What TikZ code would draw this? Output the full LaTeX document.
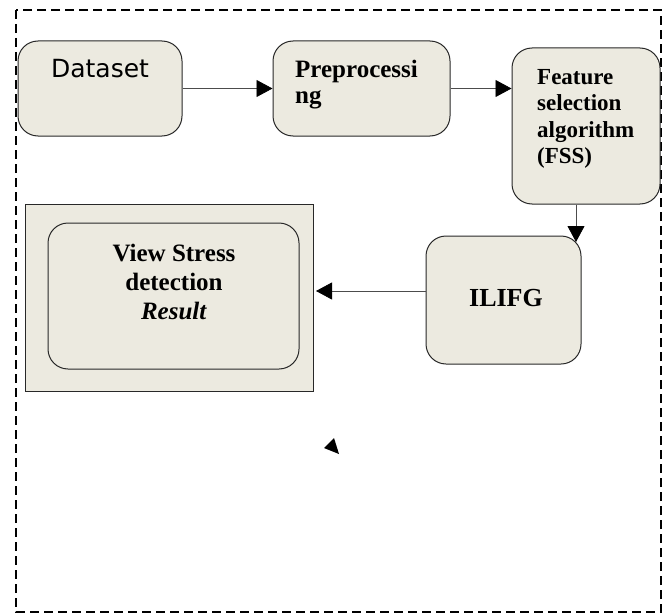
\documentclass[tikz,border=0pt]{standalone}
\usepackage{fontspec}
\setmainfont{Liberation Serif}
\newfontfamily\datafont{DejaVu Sans}
\usetikzlibrary{arrows.meta, positioning}
\definecolor{boxfill}{RGB}{236, 234, 224}
\definecolor{boxline}{RGB}{40, 40, 40}

\tikzset{
    stage/.style={draw=boxline, fill=boxfill, rounded corners=20pt, line width=1pt, inner sep=0pt},
    flow/.style={draw=black!70, line width=0.8pt, -{Triangle[length=16pt, width=17pt, black]}},
    txt/.style={inner sep=0pt, text=black}
}

\begin{document}
\begin{tikzpicture}[x=1pt, y=-1pt]
    \useasboundingbox (0,0) rectangle (666,615);

    % Outer dashed frame
    \draw[line width=2.6pt, dash pattern=on 9pt off 5pt] (16,10) rectangle (661,612);

    % Stages
    \node[stage, minimum width=164pt, minimum height=95pt] (data) at (100,88.5) {};
    \node[stage, minimum width=177pt, minimum height=95pt] (pre) at (361.5,88.5) {};
    \node[stage, minimum width=148pt, minimum height=156pt] (fss) at (586,126) {};
    \node[stage, minimum width=155pt, minimum height=128pt] (ilifg) at (503.5,300) {};

    % Result panel
    \node[draw=boxline, fill=boxfill, line width=1pt, minimum width=288pt, minimum height=187pt, inner sep=0pt] (panel) at (169,297.5) {};
    \node[stage, minimum width=251pt, minimum height=146pt] (result) at (173.5,296) {};

    % Texts
    \node[txt, anchor=base, font=\datafont\fontsize{25}{30}\selectfont] (datatxt) at (100,78) {Dataset};
    \node[txt, anchor=north west, align=left, font=\bfseries\fontsize{25}{26}\selectfont] (pretxt) at (295,60) {Preprocessi\\ng};
    \node[txt, anchor=north west, align=left, font=\bfseries\fontsize{23}{26.5}\selectfont] (fsstxt) at (537,69) {Feature\\selection\\algorithm\\(FSS)};
    \node[txt, anchor=base, font=\bfseries\fontsize{26}{30}\selectfont] (ilifgtxt) at (506,306.5) {ILIFG};
    \node[txt, anchor=north, align=center, font=\bfseries\fontsize{25}{29}\selectfont] (restxt) at (174,244) {View Stress\\detection\\\textit{Result}};

    % Connectors
    \coordinate (tipA) at (576,242);
    \coordinate (tipB) at (316,291);
    \draw[flow] (data.east) -- (pre.west);
    \draw[flow] (pre.east) -- (pre.east -| fss.west);
    \draw[flow] (fss.south -| tipA) -- (tipA);
    \draw[flow] (ilifg.west |- tipB) -- (tipB);

    % Loose arrow head
    \fill (324,448) -- (334,438) -- (339,454) -- cycle;
\end{tikzpicture}
\end{document}
